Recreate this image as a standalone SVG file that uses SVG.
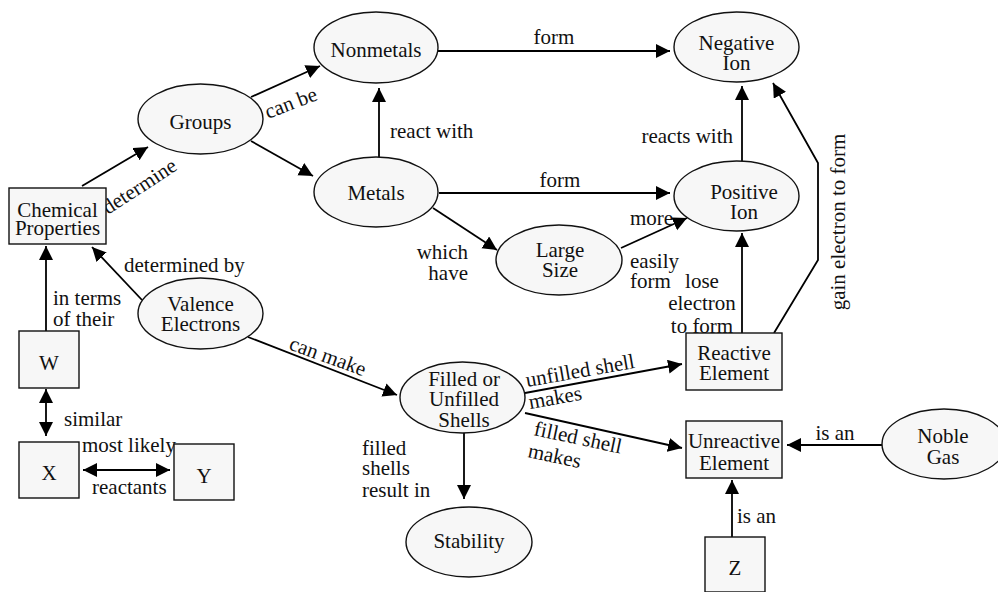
<svg xmlns="http://www.w3.org/2000/svg" width="998" height="592" viewBox="0 0 998 592">
  <style>
    text { font-family: "Liberation Serif", "Times New Roman", serif; font-size: 21px; fill: #111; }
    .node ellipse, .node rect { fill: #f7f7f7; stroke: #111; stroke-width: 1.4; }
    .c { text-anchor: middle; }
    .e { text-anchor: end; }
    #connectors path { fill: none; stroke: #000; stroke-width: 1.8; marker-end: url(#arr); }
    #connectors path.both { marker-start: url(#arr); }
  </style>
  <defs>
    <marker id="arr" markerUnits="userSpaceOnUse" markerWidth="15" markerHeight="15" refX="14" refY="7" orient="auto-start-reverse">
      <path d="M0,0 L14,7 L0,14 z" fill="#000"/>
    </marker>
  </defs>

  <g id="connectors">
    <path d="M82,186 L148,147"/>
    <path d="M251,97 L320,66"/>
    <path d="M251,141 L313,176"/>
    <path d="M379,157 L379,88"/>
    <path d="M438,51 L670,51"/>
    <path d="M439,193 L670,193"/>
    <path d="M433,208 L497,250"/>
    <path d="M621,248 L687,218"/>
    <path d="M742,161 L742,86"/>
    <path d="M742,333 L742,233"/>
    <path d="M774,333 L818,260 L818,163 L773,83"/>
    <path d="M142,300 L92,247"/>
    <path d="M46,331 L46,246"/>
    <path class="both" d="M46,389 L46,436"/>
    <path class="both" d="M83,470 L170,470"/>
    <path d="M248,337 L397,395"/>
    <path d="M525,393 L682,364"/>
    <path d="M525,413 L682,448"/>
    <path d="M464,433 L464,499"/>
    <path d="M882,445 L787,445"/>
    <path d="M732,537 L732,480"/>

    <!-- link labels -->
    <text transform="translate(108,215) rotate(-33)">determine</text>
    <text transform="translate(268,119) rotate(-21)">can be</text>
    <text x="390" y="138">react with</text>
    <text class="c" x="554" y="44">form</text>
    <text class="c" x="560" y="187">form</text>
    <text class="e" x="468" y="259">which</text>
    <text class="e" x="468" y="280">have</text>
    <text x="630" y="225">more</text>
    <text x="630" y="268">easily</text>
    <text x="630" y="288">form</text>
    <text class="e" x="733" y="143">reacts with</text>
    <text class="c" x="702" y="288">lose</text>
    <text class="c" x="702" y="310">electron</text>
    <text class="c" x="702" y="333">to form</text>
    <text class="c" transform="translate(845,222) rotate(-90)">gain electron to form</text>
    <text x="124" y="272">determined by</text>
    <text x="53" y="305">in terms</text>
    <text x="53" y="326">of their</text>
    <text x="64" y="426">similar</text>
    <text x="82" y="452">most likely</text>
    <text x="92" y="494">reactants</text>
    <text transform="translate(288,349) rotate(20)">can make</text>
    <text transform="translate(527,387) rotate(-10)">unfilled shell</text>
    <text transform="translate(530,409) rotate(-10)">makes</text>
    <text transform="translate(533,435) rotate(12)">filled shell</text>
    <text transform="translate(527,457) rotate(12)">makes</text>
    <text x="362" y="455">filled</text>
    <text x="362" y="475">shells</text>
    <text x="362" y="497">result in</text>
    <text class="c" x="835" y="440">is an</text>
    <text x="737" y="523">is an</text>
  </g>

  <g id="chemical-properties" class="node">
    <rect x="9" y="188" width="97" height="56"/>
    <text class="c" x="57.5" y="217">Chemical</text>
    <text class="c" x="57.5" y="235">Properties</text>
  </g>
  <g id="groups" class="node">
    <ellipse cx="200.5" cy="119" rx="62.5" ry="35"/>
    <text class="c" x="200.5" y="129">Groups</text>
  </g>
  <g id="nonmetals" class="node">
    <ellipse cx="376" cy="47.5" rx="62" ry="35.5"/>
    <text class="c" x="376" y="57">Nonmetals</text>
  </g>
  <g id="metals" class="node">
    <ellipse cx="376" cy="192" rx="62" ry="35"/>
    <text class="c" x="376" y="200">Metals</text>
  </g>
  <g id="negative-ion" class="node">
    <ellipse cx="736.5" cy="47" rx="62.5" ry="35"/>
    <text class="c" x="736.5" y="50">Negative</text>
    <text class="c" x="736.5" y="70">Ion</text>
  </g>
  <g id="positive-ion" class="node">
    <ellipse cx="736.5" cy="196" rx="62.5" ry="35"/>
    <text class="c" x="744" y="199">Positive</text>
    <text class="c" x="744" y="219">Ion</text>
  </g>
  <g id="large-size" class="node">
    <ellipse cx="559" cy="260" rx="63" ry="35"/>
    <text class="c" x="560" y="257">Large</text>
    <text class="c" x="560" y="277">Size</text>
  </g>
  <g id="valence-electrons" class="node">
    <ellipse cx="200.5" cy="313.5" rx="62.5" ry="35.5"/>
    <text class="c" x="200.5" y="311">Valence</text>
    <text class="c" x="200.5" y="331">Electrons</text>
  </g>
  <g id="reactive-element" class="node">
    <rect x="686" y="333" width="96" height="57"/>
    <text class="c" x="734" y="360">Reactive</text>
    <text class="c" x="734" y="380">Element</text>
  </g>
  <g id="filled-unfilled-shells" class="node">
    <ellipse cx="462.5" cy="397.5" rx="62.5" ry="35.5"/>
    <text class="c" x="464" y="386">Filled or</text>
    <text class="c" x="464" y="406">Unfilled</text>
    <text class="c" x="464" y="427">Shells</text>
  </g>
  <g id="stability" class="node">
    <ellipse cx="469" cy="542" rx="63" ry="35"/>
    <text class="c" x="469" y="548">Stability</text>
  </g>
  <g id="unreactive-element" class="node">
    <rect x="686" y="421" width="96" height="57"/>
    <text class="c" x="734" y="448">Unreactive</text>
    <text class="c" x="734" y="470">Element</text>
  </g>
  <g id="noble-gas" class="node">
    <ellipse cx="944" cy="444" rx="62" ry="35"/>
    <text class="c" x="943" y="443">Noble</text>
    <text class="c" x="943" y="464">Gas</text>
  </g>
  <g id="w" class="node">
    <rect x="19" y="331" width="60" height="57"/>
    <text class="c" x="49" y="370">W</text>
  </g>
  <g id="x" class="node">
    <rect x="19" y="442" width="60" height="56"/>
    <text class="c" x="49" y="480">X</text>
  </g>
  <g id="y" class="node">
    <rect x="174" y="444" width="60" height="56"/>
    <text class="c" x="204" y="483">Y</text>
  </g>
  <g id="z" class="node">
    <rect x="705" y="537" width="60" height="55"/>
    <text class="c" x="735" y="575">Z</text>
  </g>
</svg>
